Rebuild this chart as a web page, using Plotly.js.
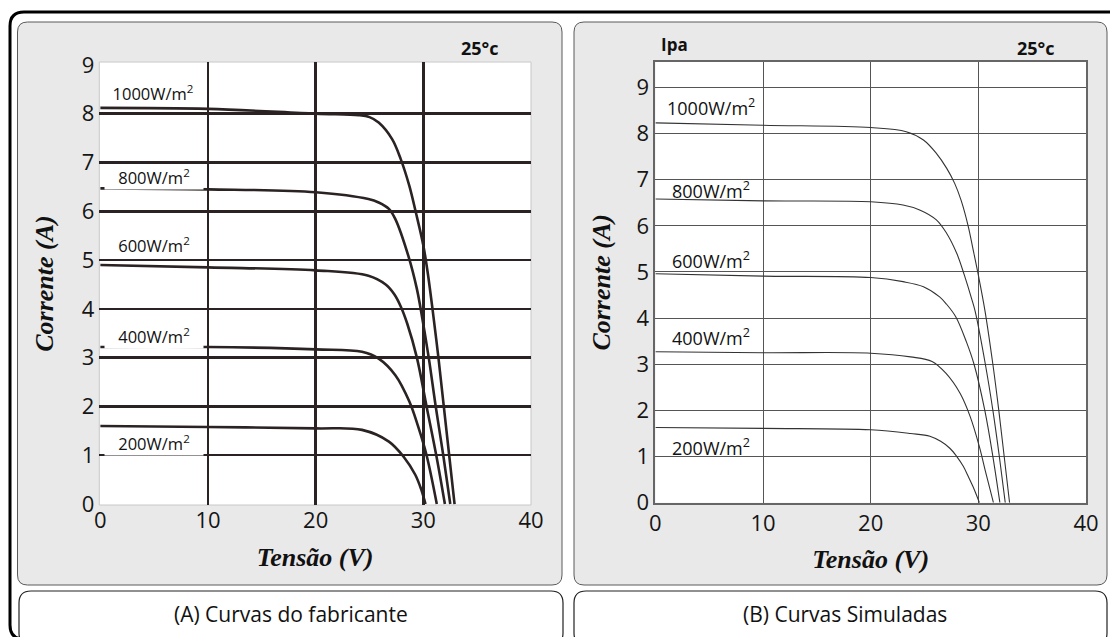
<!DOCTYPE html>
<html>
<head>
<meta charset="utf-8">
<script src="https://cdn.plot.ly/plotly-3.0.1.min.js"></script>
<style>
  html, body { margin: 0; padding: 0; background: #ffffff; }
  #chart { width: 1110px; height: 637px; }
</style>
</head>
<body>
<div id="chart"></div>
<script>
// ---------- DATA ----------
const irradianceLabels = ['1000W/m<sup>2</sup>', '800W/m<sup>2</sup>', '600W/m<sup>2</sup>', '400W/m<sup>2</sup>', '200W/m<sup>2</sup>'];
const xTicks = [0, 10, 20, 30, 40];
const yTicks = [0, 1, 2, 3, 4, 5, 6, 7, 8, 9];

// (A) Manufacturer curves: voltage (V) and current (A)
const fab1000V = [0, 10, 20, 24, 25, 25.85, 27.1, 27.9, 28.7, 29.3, 30.0, 30.4, 30.85, 31.4, 31.9, 32.4, 32.9];
const fab1000I = [8.12, 8.1, 8.0, 7.97, 7.93, 7.82, 7.48, 7.07, 6.52, 5.98, 5.3, 4.75, 4.0, 3.0, 2.0, 1.0, 0];
const fab800V = [0, 10, 20, 24.9, 25.85, 26.8, 27.4, 28.6, 29.4, 29.75, 30.5, 31.15, 31.85, 32.5];
const fab800I = [6.47, 6.45, 6.39, 6.25, 6.18, 6.05, 5.84, 5.09, 4.41, 4.0, 3.0, 2.0, 1.0, 0];
const fab600V = [0, 10, 20, 24.9, 26.5, 27.3, 27.9, 28.5, 29.4, 30.3, 31.2, 32.0];
const fab600I = [4.9, 4.85, 4.79, 4.68, 4.5, 4.3, 4.05, 3.7, 3.0, 2.0, 1.0, 0];
const fab400V = [0, 10, 20, 24.3, 25.85, 27.4, 28.7, 29.5, 30.3, 31.25];
const fab400I = [3.22, 3.22, 3.17, 3.12, 2.98, 2.64, 2.1, 1.6, 1.0, 0];
const fab200V = [0, 10, 20, 24.3, 26.8, 28.2, 29.25, 29.8, 30.2];
const fab200I = [1.6, 1.58, 1.55, 1.52, 1.28, 0.96, 0.6, 0.3, 0];

// (B) Simulated curves
const sim1000V = [0, 10, 20, 23.3, 24.9, 26.1, 27.05, 27.8, 28.4, 29.05, 29.5, 30.0, 30.6, 31.35, 31.9, 32.4, 32.9];
const sim1000I = [8.23, 8.18, 8.13, 8.04, 7.86, 7.57, 7.25, 6.92, 6.55, 6.0, 5.5, 4.93, 4.18, 3.0, 2.0, 1.0, 0];
const sim800V = [0, 10, 20, 23, 24.6, 26.1, 27.05, 28.0, 28.7, 29.4, 29.7, 30.65, 31.35, 31.95, 32.5];
const sim800I = [6.58, 6.54, 6.52, 6.45, 6.34, 6.13, 5.84, 5.4, 4.93, 4.4, 4.15, 3.0, 2.0, 1.0, 0];
const sim600V = [0, 10, 20, 23, 24.9, 26.4, 27.05, 27.9, 28.9, 29.6, 30.6, 31.35, 32.0];
const sim600I = [4.96, 4.91, 4.88, 4.79, 4.68, 4.46, 4.3, 4.03, 3.48, 3.0, 2.0, 1.0, 0];
const sim400V = [0, 10, 20, 23.7, 25.7, 27.0, 28.3, 29.25, 30.1, 30.7, 31.4];
const sim400I = [3.27, 3.25, 3.24, 3.16, 3.06, 2.8, 2.37, 1.86, 1.21, 0.64, 0];
const sim200V = [0, 10, 20, 23.7, 25.5, 26.5, 27.35, 28.0, 28.6, 29.1, 29.5, 30.1];
const sim200I = [1.63, 1.61, 1.58, 1.5, 1.44, 1.33, 1.18, 1.0, 0.79, 0.55, 0.35, 0];

// label anchor positions (data coordinates)
const fabLabelV = [4.9, 5.0, 5.0, 5.0, 5.0];
const fabLabelI = [8.42, 6.71, 5.31, 3.44, 1.25];
const simLabelV = [5.17, 5.17, 5.17, 5.17, 5.17];
const simLabelI = [8.58, 6.78, 5.26, 3.6, 1.21];

// ---------- LAYOUT HELPERS ----------
const W = 1110, H = 637;
const X = p => p / W;
const Y = p => 1 - p / H;
function rr(x0, y0, x1, y1, r) {
  const rx = r / W, ry = r / H;
  const a = X(x0), b = X(x1), t = Y(y0), u = Y(y1);
  return `M ${a + rx},${t} L ${b - rx},${t} Q ${b},${t} ${b},${t - ry} L ${b},${u + ry} Q ${b},${u} ${b - rx},${u} ` +
         `L ${a + rx},${u} Q ${a},${u} ${a},${u + ry} L ${a},${t - ry} Q ${a},${t} ${a + rx},${t} Z`;
}

const tickFont = { family: 'Open Sans, sans-serif', size: 22, color: '#151515' };
const titleFont = { family: 'Liberation Serif, Times New Roman, serif', size: 26, color: '#111', weight: 'bold', style: 'italic' };
const fabColor = '#2b2323';

const fabSets = [[fab1000V, fab1000I], [fab800V, fab800I], [fab600V, fab600I], [fab400V, fab400I], [fab200V, fab200I]];
const simSets = [[sim1000V, sim1000I], [sim800V, sim800I], [sim600V, sim600I], [sim400V, sim400I], [sim200V, sim200I]];

const traces = [];
fabSets.forEach((s, i) => traces.push({
  x: s[0], y: s[1], xaxis: 'x', yaxis: 'y', type: 'scatter', mode: 'lines',
  name: 'Fabricante ' + irradianceLabels[i].replace(/<[^>]+>/g, ''),
  line: { color: fabColor, width: 2.6, shape: 'spline', smoothing: 1.0 },
  hoverinfo: 'skip', showlegend: false
}));
simSets.forEach((s, i) => traces.push({
  x: s[0], y: s[1], xaxis: 'x2', yaxis: 'y2', type: 'scatter', mode: 'lines',
  name: 'Simulada ' + irradianceLabels[i].replace(/<[^>]+>/g, ''),
  line: { color: '#333333', width: 1.1, shape: 'spline', smoothing: 1.0 },
  hoverinfo: 'skip', showlegend: false
}));

const annotations = [];
irradianceLabels.forEach((t, i) => {
  annotations.push({
    text: t, x: fabLabelV[i], y: fabLabelI[i], xref: 'x', yref: 'y', showarrow: false,
    xanchor: 'center', yanchor: 'middle', width: 96, height: 22, align: 'center',
    font: { family: 'Open Sans, sans-serif', size: 16.5, color: '#111' },
    bgcolor: '#ffffff', borderpad: 1
  });
  annotations.push({
    text: t, x: simLabelV[i], y: simLabelI[i], xref: 'x2', yref: 'y2', showarrow: false,
    xanchor: 'center', yanchor: 'middle',
    font: { family: 'Open Sans, sans-serif', size: 18, color: '#111' }
  });
});
const paperText = (text, px, py, size) => ({
  text: text, x: X(px), y: Y(py), xref: 'paper', yref: 'paper', showarrow: false,
  xanchor: 'center', yanchor: 'middle',
  font: { family: 'Open Sans, sans-serif', size: size, color: '#111' }
});
annotations.push(
  paperText('<b>25°c</b>', 480, 48, 18),
  paperText('<b>25°c</b>', 1036, 48, 18),
  paperText('<b>Ipa</b>', 674, 44, 17),
  paperText('(A) Curvas do fabricante', 291, 614, 21),
  paperText('(B) Curvas Simuladas', 845, 614, 21)
);

const shapes = [
  { type: 'path', xref: 'paper', yref: 'paper', layer: 'below', path: rr(17.5, 22, 562, 585, 10),
    fillcolor: '#e9e9e9', line: { color: '#5a5a5a', width: 1 } },
  { type: 'path', xref: 'paper', yref: 'paper', layer: 'below', path: rr(574, 22, 1107, 585, 10),
    fillcolor: '#e9e9e9', line: { color: '#5a5a5a', width: 1 } },
  { type: 'path', xref: 'paper', yref: 'paper', layer: 'below', path: rr(19, 591, 563, 645, 12),
    fillcolor: '#ffffff', line: { color: '#222', width: 1.2 } },
  { type: 'path', xref: 'paper', yref: 'paper', layer: 'below', path: rr(574, 591, 1107, 645, 12),
    fillcolor: '#ffffff', line: { color: '#222', width: 1.2 } },
  { type: 'path', xref: 'paper', yref: 'paper', layer: 'above', path: rr(10, 12, 1135, 639, 14),
    fillcolor: 'rgba(0,0,0,0)', line: { color: '#000', width: 3 } },
  { type: 'rect', xref: 'x domain', yref: 'y domain', x0: 0, x1: 1, y0: 0, y1: 1, layer: 'below',
    fillcolor: '#ffffff', line: { color: '#c8c8c8', width: 1 } },
  { type: 'rect', xref: 'x2 domain', yref: 'y2 domain', x0: 0, x1: 1, y0: 0, y1: 1, layer: 'below',
    fillcolor: '#ffffff', line: { width: 0 } }
];

const layout = {
  width: W, height: H,
  margin: { l: 0, r: 0, t: 0, b: 0, pad: 0 },
  paper_bgcolor: '#ffffff', plot_bgcolor: 'rgba(0,0,0,0)',
  showlegend: false,
  font: { family: 'Open Sans, sans-serif' },
  xaxis: {
    domain: [X(99.3), X(531)], range: [-0.1, 40], anchor: 'y',
    tickmode: 'array', tickvals: xTicks, ticks: '', tickfont: tickFont,
    showgrid: false, zeroline: false, showline: false, fixedrange: true,
    minor: { tickmode: 'array', tickvals: [10, 20, 30], showgrid: true, gridcolor: fabColor, gridwidth: 2.5, ticks: '', ticklen: 0, tickwidth: 0 },
    title: { text: 'Tensão (V)', font: titleFont, standoff: 14 }
  },
  yaxis: {
    domain: [Y(505), Y(62)], range: [-0.02, 9.06], anchor: 'x',
    tickmode: 'array', tickvals: yTicks, ticks: '', tickfont: tickFont, ticklabelstandoff: 4,
    showgrid: false, zeroline: false, showline: false, fixedrange: true,
    minor: { tickmode: 'array', tickvals: [1, 2, 3, 4, 5, 6, 7, 8], showgrid: true, gridcolor: fabColor, gridwidth: 2.5, ticks: '', ticklen: 0, tickwidth: 0 },
    title: { text: 'Corrente (A)', font: titleFont, standoff: 20 }
  },
  xaxis2: {
    domain: [X(655.4), X(1086)], range: [0, 40], anchor: 'y2',
    tickmode: 'array', tickvals: xTicks, ticks: '', tickfont: tickFont,
    showgrid: true, gridcolor: '#555555', gridwidth: 1, zeroline: false,
    showline: true, mirror: true, linecolor: '#666666', linewidth: 2, fixedrange: true,
    title: { text: 'Tensão (V)', font: titleFont, standoff: 14 }
  },
  yaxis2: {
    domain: [Y(502.7), Y(62)], range: [0, 9.55], anchor: 'x2',
    tickmode: 'array', tickvals: yTicks, ticks: '', tickfont: tickFont,
    showgrid: true, gridcolor: '#555555', gridwidth: 1, zeroline: false,
    showline: true, mirror: true, linecolor: '#666666', linewidth: 2, fixedrange: true,
    title: { text: 'Corrente (A)', font: titleFont, standoff: 18 }
  },
  shapes: shapes,
  annotations: annotations
};

Plotly.newPlot('chart', traces, layout, { displayModeBar: false, staticPlot: true });
</script>
</body>
</html>
